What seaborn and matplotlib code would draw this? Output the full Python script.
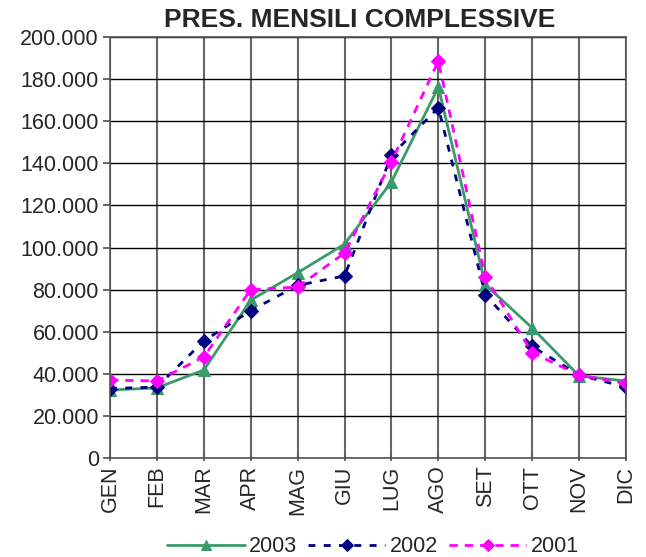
import matplotlib
matplotlib.use("Agg")
import matplotlib.pyplot as plt
import seaborn as sns
import pandas as pd
from matplotlib.ticker import FuncFormatter, MultipleLocator

months = ["GEN", "FEB", "MAR", "APR", "MAG", "GIU", "LUG", "AGO", "SET", "OTT", "NOV", "DIC"]
y2003 = [32300, 33300, 41800, 75000, 88000, 101600, 131200, 176200, 82400, 61800, 39000, 36600]
y2002 = [33000, 33700, 55600, 70000, 82000, 86500, 143800, 166400, 77600, 53000, 39400, 33700]
y2001 = [37000, 36600, 48000, 80000, 81200, 97400, 140700, 188600, 86000, 50000, 39400, 35400]
series_names = ["2003", "2002", "2001"]

sns.set_theme(style="white")
plt.rcParams["font.family"] = ["Liberation Sans", "DejaVu Sans"]

fig = plt.figure(figsize=(6.46, 5.57), dpi=100)
ax = fig.add_axes([110/646, 1-458/557, (626-110)/646, (458-37)/557])

x = list(range(len(months)))
styles = [
    dict(color="#3A9A6A", marker="^", ms=9, dashes=None),
    dict(color="#000080", marker="D", ms=7.5, dashes=(2.5, 3)),
    dict(color="#FF00FF", marker="D", ms=7.5, dashes=(3, 2.5)),
]
for name, vals, st in zip(series_names, [y2003, y2002, y2001], styles):
    df = pd.DataFrame({"x": x, "y": vals})
    kw = dict(color=st["color"], marker=st["marker"], markersize=st["ms"],
              markeredgecolor=st["color"], linewidth=2, ax=ax, label=name)
    if st["dashes"]:
        kw["dashes"] = st["dashes"]
    sns.lineplot(data=df, x="x", y="y", **kw)

ax.set_xlim(0, 11)
ax.set_ylim(0, 200000)
ax.set_xticks(x)
ax.set_xticklabels(months, rotation=90, fontsize=15.5)
ax.yaxis.set_major_locator(MultipleLocator(20000))
ax.yaxis.set_major_formatter(FuncFormatter(lambda v, p: f"{int(v):,}".replace(",", ".")))
ax.tick_params(axis="y", labelsize=15.5, length=5, color="#555555", direction="out", left=True, pad=3)
ax.tick_params(axis="x", length=5, color="#555555", direction="inout", bottom=True, pad=3)
ax.grid(True, axis="y", color="black", linewidth=1)
ax.grid(True, axis="x", color="#666666", linewidth=1.5)
ax.set_axisbelow(True)
for s in ax.spines.values():
    s.set_color("#555555")
    s.set_linewidth(1.2)
ax.set_xlabel("")
ax.set_ylabel("")
ax.set_title("PRES. MENSILI COMPLESSIVE", fontsize=19, fontweight="bold", pad=7, x=0.483)

h, l = ax.get_legend_handles_labels()
ax.legend().remove()
fig.legend(h, l, loc="center", bbox_to_anchor=(373/646, 1-547/557), ncol=3,
           frameon=False, fontsize=15.5, handlelength=3.6, columnspacing=0.5,
           handletextpad=0.2, borderaxespad=0, borderpad=0, markerscale=0.85)

fig.savefig("out.png", dpi=100)
